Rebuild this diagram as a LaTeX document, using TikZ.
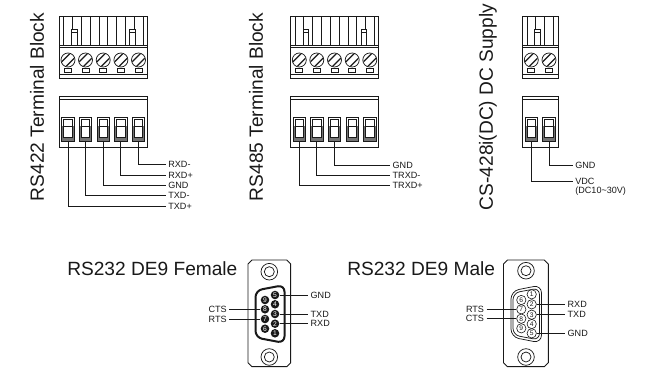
\documentclass[tikz,border=0pt]{standalone}
\usepackage{fontspec}
\setmainfont{Liberation Sans}
\definecolor{ink}{gray}{0.1}
\newcommand{\bigsize}{\fontsize{14.35}{16}\selectfont}
\newcommand{\smallsize}{\fontsize{6.8}{8}\selectfont}
\tikzset{
  line/.style={draw=ink,line width=0.55pt},
  wire/.style={draw=ink,line width=0.65pt},
  title/.style={text=ink,font=\bigsize,inner sep=0pt},
  sig/.style={text=ink,font=\smallsize,inner ysep=0pt,inner xsep=1.8pt,anchor=west},
  sigl/.style={text=ink,font=\smallsize,inner ysep=0pt,inner xsep=1.8pt,anchor=east},
}
% name, left, right, screw list, latch list
\newcommand{\tblock}[5]{%
  \draw[line,fill=white] (#2,16) rectangle (#3,78);
  \draw[line] (#2,45) -- (#3,45) (#2,47.7) -- (#3,47.7) (#2,74) -- (#3,74);
  \foreach \s in {#4}{%
    \draw[line,line width=0.4pt] (\s-4.4,16) -- (\s-4.4,45) (\s+4.4,16) -- (\s+4.4,45);
    \draw[line,fill=white] (\s,60) circle (7);
    \begin{scope}
      \clip (\s,60) circle (6.6);
      \draw[line,line width=0.9pt] (\s-7,62.5) -- (\s+2.5,53) (\s-2.5,67) -- (\s+7,57.5);
    \end{scope}
    \draw[line,fill=white] (\s-3.5,68.5) rectangle (\s+3.5,72.5);
  }
  \foreach \s in {#5}{%
    \draw[line,fill=white] (\s-2.9,29) rectangle (\s+2.9,45);
    \draw[line] (\s-2.9,32.5) -- (\s+2.9,32.5);
  }
  \draw[line,fill=white] (#2,96) rectangle (#3,147);
  \draw[line] (#2,99.5) -- (#3,99.5);
  \foreach \s [count=\i] in {#4}{%
    \draw[line,line width=0.7pt,fill=white] (\s-6.2,117) rectangle (\s+6.2,141);
    \fill[black!55] (\s-6.2,126) rectangle (\s+6.2,141);
    \draw[line,fill=white] (\s-4.2,119) rectangle (\s+4.2,126);
    \draw[line,fill=white] (\s-4.2,126) rectangle (\s+4.2,137.5);
    \draw[line,line width=0.7pt] (\s-6.2,117) rectangle (\s+6.2,141);
    \coordinate (#1-\i) at (\s,141);
  }
}
% left, right, centre x, top screw y
\newcommand{\dshell}[4]{%
  \draw[line,line width=0.7pt] (#1+4,260) -- (#2-4,260) -- (#2,264) -- (#2,362.7) -- (#2-4,366.7) -- (#1+4,366.7) -- (#1,362.7) -- (#1,264) -- cycle;
  \foreach \y in {#4,357}{
    \draw[line,fill=white] (#3,\y) circle (8.3);
    \draw[line,fill=white] (#3,\y) circle (5);
  }
}
\begin{document}
\begin{tikzpicture}[x=0.75pt,y=-0.75pt]
\useasboundingbox (0,0) rectangle (649,368);
% ---- titles
\node[title,rotate=90] (t1) at (37,107) {RS422 Terminal Block};
\node[title,rotate=90] (t2) at (256,107) {RS485 Terminal Block};
\node[title,rotate=90] (t3) at (488,107) {CS-428i(DC) DC Supply};
\node[title,anchor=west] (t4) at (67,268.5) {RS232 DE9 Female};
\node[title,anchor=west] (t5) at (347,268.5) {RS232 DE9 Male};
% ---- terminal blocks
\tblock{a}{59.3}{147.3}{68,85.5,103.2,120.9,138.5}{74.5,132.5}
\tblock{b}{290.6}{378.6}{299.3,316.8,334.5,352.2,369.8}{305.8,363.8}
\tblock{c}{522.3}{558}{531.3,549}{537.2}
% ---- RS422 wires
\node[sig] (a5l) at (165.7,164.7) {RXD-};
\node[sig] (a4l) at (165.7,175) {RXD+};
\node[sig] (a3l) at (165.7,185.3) {GND};
\node[sig] (a2l) at (165.7,195.7) {TXD-};
\node[sig] (a1l) at (165.7,206) {TXD+};
\foreach \i in {1,...,5}{\draw[wire] (a-\i) |- (a\i l.west);}
% ---- RS485 wires
\node[sig] (b3l) at (390,165) {GND};
\node[sig] (b2l) at (390,175) {TRXD-};
\node[sig] (b1l) at (390,185.3) {TRXD+};
\foreach \i in {1,2,3}{\draw[wire] (b-\i) |- (b\i l.west);}
% ---- DC wires
\node[sig] (c2l) at (572.7,165) {GND};
\node[sig] (c1l) at (572.7,181) {VDC};
\node[sig] (c1m) at (572.7,191) {(DC10\textasciitilde 30V)};
\draw[wire] (c-2) |- (c2l.west);
\draw[wire] (c-1) |- (c1l.west);
% ---- Female DE9
\dshell{248}{290.7}{269.3}{271.7}
\draw[draw=ink,line width=1.5pt,fill=white,rounded corners=5] (255.5,290.5) -- (284.5,285) -- (284.5,343) -- (255.5,337.5) -- cycle;
\foreach \n/\x/\y in {5/275/295,4/275/304.3,3/275/314,2/275/323.7,1/275/333.3,9/265/300,8/265/309.3,7/265/319,6/265/328.7}{
  \node[circle,fill=ink,text=white,font=\fontsize{5}{5}\selectfont,inner sep=0pt,minimum size=6.4] (f\n) at (\x,\y) {\n};
}
\node[sig] (fgnd) at (308,295) {GND};
\node[sig] (ftxd) at (308,314) {TXD};
\node[sig] (frxd) at (308,323.7) {RXD};
\node[sigl] (fcts) at (229.3,309.3) {CTS};
\node[sigl] (frts) at (229.3,319) {RTS};
\draw[wire] (f5) -- (fgnd.west);
\draw[wire] (f3) -- (ftxd.west);
\draw[wire] (f2) -- (frxd.west);
\draw[wire] (fcts.east) -- (f8);
\draw[wire] (frts.east) -- (f7);
% ---- Male DE9
\dshell{503.5}{548.3}{526}{270.7}
\draw[line,fill=white,rounded corners=6] (511,291) -- (541.5,285) -- (541.5,343) -- (511,337) -- cycle;
\draw[line,rounded corners=5] (513,293) -- (539.5,288) -- (539.5,340) -- (513,335) -- cycle;
\foreach \n/\x/\y in {1/531.7/294.3,2/531.7/304.3,3/531.7/314.7,4/531.7/324,5/531.7/333.3,6/521.3/300,7/521.3/309.3,8/521.3/318.7,9/521.3/328.3}{
  \node[circle,draw=ink,line width=0.45pt,fill=white,text=ink,font=\fontsize{5}{5}\selectfont,inner sep=0pt,minimum size=7] (m\n) at (\x,\y) {\n};
}
\node[sig] (mrxd) at (565,304.3) {RXD};
\node[sig] (mtxd) at (565,314.7) {TXD};
\node[sig] (mgnd) at (565,333.3) {GND};
\node[sigl] (mrts) at (486.7,309.3) {RTS};
\node[sigl] (mcts) at (486.7,318.7) {CTS};
\draw[wire] (m2) -- (mrxd.west);
\draw[wire] (m3) -- (mtxd.west);
\draw[wire] (m5) -- (mgnd.west);
\draw[wire] (mrts.east) -- (m7);
\draw[wire] (mcts.east) -- (m8);
\end{tikzpicture}
\end{document}
